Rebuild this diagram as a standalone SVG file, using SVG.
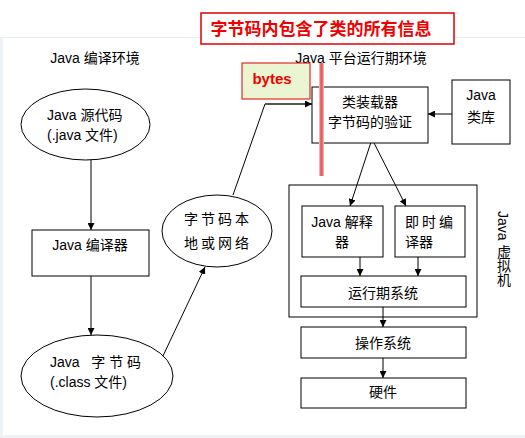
<svg xmlns="http://www.w3.org/2000/svg" width="525" height="438" viewBox="0 0 525 438">
<defs>
<marker id="ah" viewBox="0 0 10 10" refX="10" refY="5" markerWidth="7" markerHeight="7" markerUnits="userSpaceOnUse" orient="auto">
<path d="M0,0 L10,5 L0,10 z" fill="#000"/>
</marker>
<style>
.t{font-family:"Liberation Sans","Noto Sans CJK SC",sans-serif;font-size:14px;fill:#000}
.m{text-anchor:middle}
.box{fill:#fff;stroke:#000;stroke-width:1}
.ell{fill:#fff;stroke:#000;stroke-width:1}
.c{fill:none;stroke:#000;stroke-width:1;marker-end:url(#ah)}
</style>
</defs>
<rect width="525" height="438" fill="#fff"/>
<rect x="0" y="37" width="525" height="1" fill="#e6edf6"/>
<rect x="0" y="37" width="3" height="401" fill="#eef3fa"/>
<rect x="0" y="435" width="525" height="3" fill="#eef2f7"/>

<g id="title">
<rect x="201" y="13" width="253" height="31" fill="#fff" stroke="#e00000" stroke-width="1.5"/>
<text x="321" y="35" text-anchor="middle" style="font-family:'Noto Sans CJK SC',sans-serif;font-size:17px;font-weight:bold;fill:#f00000">字节码内包含了类的所有信息</text>
</g>

<g id="label-compile"><text class="t m" x="95" y="63">Java 编译环境</text></g>
<g id="label-runtime"><text class="t m" x="361" y="63">Java 平台运行期环境</text></g>

<g id="jvm">
<rect x="289" y="185" width="188" height="132" fill="none" stroke="#000" stroke-width="1"/>
<text class="t" x="503" y="211" style="writing-mode:vertical-rl">Java 虚拟机</text>
</g>

<g id="connectors">
<line class="c" x1="91" y1="160" x2="91" y2="230"/>
<line class="c" x1="91" y1="276" x2="91" y2="335"/>
<line class="c" x1="162" y1="358" x2="205" y2="267"/>
<polyline points="233,195 265,104 283,104" fill="none" stroke="#000" stroke-width="1"/>
<line x1="265" y1="104" x2="312" y2="104" stroke="#555" stroke-width="2" marker-end="url(#ah)"/>
<line class="c" x1="452" y1="114" x2="428" y2="114"/>
<line class="c" x1="372" y1="139" x2="350" y2="206"/>
<line class="c" x1="372" y1="139" x2="406" y2="206"/>
<line class="c" x1="360" y1="257" x2="360" y2="276"/>
<line class="c" x1="418" y1="257" x2="418" y2="276"/>
<line class="c" x1="383" y1="307" x2="383" y2="327"/>
<line class="c" x1="383" y1="358" x2="383" y2="378"/>
</g>

<g id="src">
<ellipse class="ell" cx="85.5" cy="124.5" rx="64.5" ry="35.5"/>
<text class="t" x="47" y="120">Java  源代码</text>
<text class="t" x="47" y="140">(.java 文件)</text>
</g>

<g id="compiler">
<rect class="box" x="32" y="230" width="117" height="46"/>
<text class="t m" x="90" y="250">Java 编译器</text>
</g>

<g id="bytecode">
<ellipse class="ell" cx="97" cy="376" rx="76" ry="41"/>
<text class="t" x="50" y="367" xml:space="preserve">Java   字 节 码</text>
<text class="t" x="50" y="387">(.class 文件)</text>
</g>

<g id="net">
<ellipse class="ell" cx="217" cy="231" rx="55" ry="36"/>
<text class="t m" x="218" y="224" letter-spacing="3">字节码本</text>
<text class="t m" x="218" y="248" letter-spacing="3">地或网络</text>
</g>

<g id="loader">
<rect class="box" x="312" y="87" width="116" height="56"/>
<text class="t m" x="370" y="107">类装载器</text>
<text class="t m" x="370" y="127">字节码的验证</text>
</g>

<g id="lib">
<rect class="box" x="452" y="80" width="58" height="64"/>
<text class="t m" x="481" y="100">Java</text>
<text class="t m" x="481" y="122">类库</text>
</g>

<g id="interp">
<rect class="box" x="302" y="206" width="81" height="51"/>
<text class="t m" x="342" y="227">Java 解释</text>
<text class="t m" x="342" y="247">器</text>
</g>

<g id="jit">
<rect class="box" x="395" y="206" width="70" height="51"/>
<text class="t" x="405" y="227" letter-spacing="3">即时编</text>
<text class="t" x="405" y="247">译器</text>
</g>

<g id="rts">
<rect class="box" x="301" y="276" width="165" height="31"/>
<text class="t m" x="383" y="298">运行期系统</text>
</g>

<g id="os">
<rect class="box" x="301" y="327" width="165" height="31"/>
<text class="t m" x="383" y="348">操作系统</text>
</g>

<g id="hw">
<rect class="box" x="301" y="378" width="165" height="30"/>
<text class="t m" x="383" y="397">硬件</text>
</g>

<g id="bytes">
<rect x="242" y="63" width="68" height="36" fill="#ecf5d2" stroke="#e00000" stroke-width="1"/>
<text x="272" y="84" text-anchor="middle" style="font-family:'Liberation Sans',sans-serif;font-size:15px;font-weight:bold;fill:#f00000">bytes</text>
</g>

<g id="redline">
<line x1="321.5" y1="63" x2="321.5" y2="176" stroke="#f4b0b0" stroke-width="5"/>
<line x1="321.5" y1="63" x2="321.5" y2="176" stroke="#e85a5a" stroke-width="2.5"/>
</g>
</svg>
